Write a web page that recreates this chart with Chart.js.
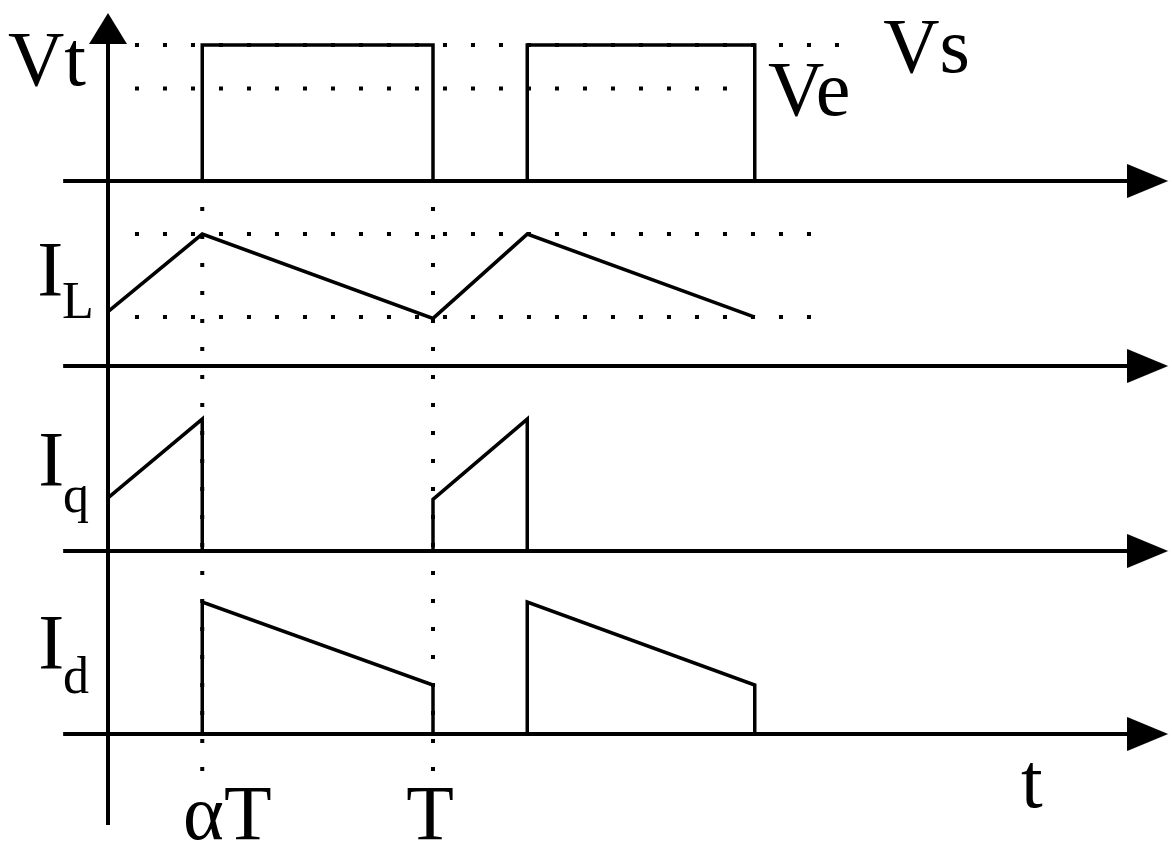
<!DOCTYPE html>
<html>
<head>
<meta charset="utf-8">
<title>Chopper waveforms</title>
<script src="https://cdn.jsdelivr.net/npm/chart.js@4/dist/chart.umd.min.js"></script>
<style>
  html, body { margin: 0; padding: 0; background: #ffffff; }
  canvas { display: block; }
</style>
</head>
<body>
<canvas id="wave" width="1172" height="841"></canvas>
<script>
// ---- switching instants (time in units of the period T) ----
const tickTimes  = [0.29, 1.00];
const tickLabels = ['αT', 'T'];

// ---- terminal voltage Vt (per unit of Vs) ----
const vtTime  = [0.29, 0.29, 1.00, 1.00, 1.29, 1.29, 1.99, 1.99];
const vtValue = [0,    1.00, 1.00, 0,    0,    1.00, 1.00, 0];
const levelVs = 1.00;
const levelVe = 0.68;

// ---- inductor current IL ----
const ilTime  = [0,    0.29, 1.00, 1.29, 1.99];
const ilValue = [0.40, 0.97, 0.35, 0.97, 0.36];
const ilMax = 0.97;
const ilMin = 0.36;

// ---- switch current Iq ----
const iqTime  = [0,    0.29, 0.29, 1.00, 1.00, 1.29, 1.29];
const iqValue = [0.39, 0.97, 0,    0,    0.38, 0.97, 0];

// ---- diode current Id ----
const idTime  = [0.29, 0.29, 1.00, 1.00, 1.29, 1.29, 1.99, 1.99];
const idValue = [0,    0.97, 0.36, 0,    0,    0.97, 0.36, 0];

// ---- layout of the four stacked traces ----
const CANVAS_W = 1172, CANVAS_H = 841;
const ORIGIN_PX = 108;       // where t = 0 sits
const PX_PER_PERIOD = 325;   // width of one period T
const PX_PER_UNIT = 136;     // height of 1 p.u. on each trace
const panelBaseline = { yVt: 181, yIL: 366, yIq: 551, yId: 734 };

const AXIS_START = -0.138;   // left end of the time axes
const AXIS_TIP = 3.262;      // arrow tip of the time axes
const AXIS_LINE_END = 3.16;  // line stops under the arrow head
const VAXIS_BOTTOM = -4.735; // vertical axis, in Vt units
const VAXIS_LINE_END = 1.05;
const VAXIS_TIP = 1.235;
const DOT_START = 0.083;

const pts = (xs, ys) => xs.map((x, i) => ({ x, y: ys[i] }));

function arrowHead(len, wid) {
  const c = document.createElement('canvas');
  c.width = len * 2;
  c.height = wid;
  const g = c.getContext('2d');
  g.fillStyle = '#000';
  g.beginPath();
  g.moveTo(0, 0);
  g.lineTo(len, wid / 2);
  g.lineTo(0, wid);
  g.closePath();
  g.fill();
  return c;
}
const arrowRight = arrowHead(41, 34);
const arrowUp = arrowHead(31, 38);

// scales: one shared time axis, one value axis per trace
const scales = {
  x: {
    type: 'linear', display: false, bounds: 'data',
    min: -ORIGIN_PX / PX_PER_PERIOD,
    max: (CANVAS_W - ORIGIN_PX) / PX_PER_PERIOD
  }
};
for (const id of Object.keys(panelBaseline)) {
  const b = panelBaseline[id];
  scales[id] = {
    type: 'linear', display: false, bounds: 'data',
    min: (b - CANVAS_H) / PX_PER_UNIT,
    max: b / PX_PER_UNIT
  };
}

const solid = (data, axis, width) => ({
  data, yAxisID: axis, showLine: true,
  borderColor: '#000', borderWidth: width,
  pointRadius: 0, borderJoinStyle: 'miter', borderCapStyle: 'butt'
});
const dotted = (data, axis) => ({
  data, yAxisID: axis, showLine: true,
  borderColor: '#000', borderWidth: 4, borderDash: [4, 24],
  borderCapStyle: 'butt', pointRadius: 0
});
const arrow = (data, axis, img, rot) => ({
  data, yAxisID: axis, showLine: false,
  pointStyle: img, pointRotation: rot, pointRadius: 5,
  pointBackgroundColor: '#000', pointBorderWidth: 0
});

const datasets = [];

// waveforms
datasets.push(solid(pts(vtTime, vtValue), 'yVt', 3.5));
datasets.push(solid(pts(ilTime, ilValue), 'yIL', 3.5));
datasets.push(solid(pts(iqTime, iqValue), 'yIq', 3.5));
datasets.push(solid(pts(idTime, idValue), 'yId', 3.5));

// time axes with arrow heads
for (const id of Object.keys(panelBaseline)) {
  datasets.push(solid(pts([AXIS_START, AXIS_LINE_END], [0, 0]), id, 4));
  datasets.push(arrow(pts([AXIS_TIP], [0]), id, arrowRight, 0));
}
// vertical axis
datasets.push(solid(pts([0, 0], [VAXIS_BOTTOM, VAXIS_LINE_END]), 'yVt', 4));
datasets.push(arrow(pts([0], [VAXIS_TIP]), 'yVt', arrowUp, -90));

// dotted reference levels
datasets.push(dotted(pts([DOT_START, 2.268], [levelVs, levelVs]), 'yVt'));
datasets.push(dotted(pts([DOT_START, 1.905], [levelVe, levelVe]), 'yVt'));
datasets.push(dotted(pts([DOT_START, 2.182], [ilMax, ilMax]), 'yIL'));
datasets.push(dotted(pts([DOT_START, 2.182], [ilMin, ilMin]), 'yIL'));
// dotted switching instants
for (const t of tickTimes) {
  datasets.push(dotted(pts([t, t], [-2.978, 1.176]), 'yIL'));
}

// text labels, placed in time / trace units
const FONT = '"Liberation Serif", "Times New Roman", serif';
const textItems = [
  { text: 'Vt', t: -0.308, v: 0.706, axis: 'yVt' },
  { text: 'Vs', t: 2.385, v: 0.801, axis: 'yVt' },
  { text: 'Ve', t: 2.031, v: 0.485, axis: 'yVt' },
  { text: 'I', sub: 'L', t: -0.218, v: 0.522, axis: 'yIL', subDrop: 23 },
  { text: 'I', sub: 'q', t: -0.215, v: 0.485, axis: 'yIq', subDrop: 27 },
  { text: 'I', sub: 'd', t: -0.215, v: 0.485, axis: 'yId', subDrop: 25 },
  { text: tickLabels[0], t: 0.231, v: -0.772, axis: 'yId' },
  { text: tickLabels[1], t: 0.991, v: -0.772, axis: 'yId', align: 'center' },
  { text: 't', t: 2.809, v: -0.537, axis: 'yId' }
];

const textPlugin = {
  id: 'waveText',
  afterDatasetsDraw(chart) {
    const ctx = chart.ctx;
    ctx.save();
    ctx.fillStyle = '#000';
    ctx.textBaseline = 'alphabetic';
    for (const item of textItems) {
      const x = chart.scales.x.getPixelForValue(item.t);
      const y = chart.scales[item.axis].getPixelForValue(item.v);
      ctx.font = '78px ' + FONT;
      ctx.textAlign = item.align || 'left';
      ctx.fillText(item.text, x, y);
      if (item.sub) {
        const w = ctx.measureText(item.text).width;
        ctx.font = '52px ' + FONT;
        ctx.textAlign = 'left';
        ctx.fillText(item.sub, x + w - 1, y + item.subDrop);
      }
    }
    ctx.restore();
  }
};

new Chart(document.getElementById('wave'), {
  type: 'scatter',
  data: { datasets },
  options: {
    responsive: false,
    devicePixelRatio: 1,
    animation: false,
    events: [],
    layout: { padding: 0, autoPadding: false },
    elements: { line: { tension: 0, fill: false } },
    plugins: { legend: { display: false }, tooltip: { enabled: false } },
    scales
  },
  plugins: [textPlugin]
});
</script>
</body>
</html>
